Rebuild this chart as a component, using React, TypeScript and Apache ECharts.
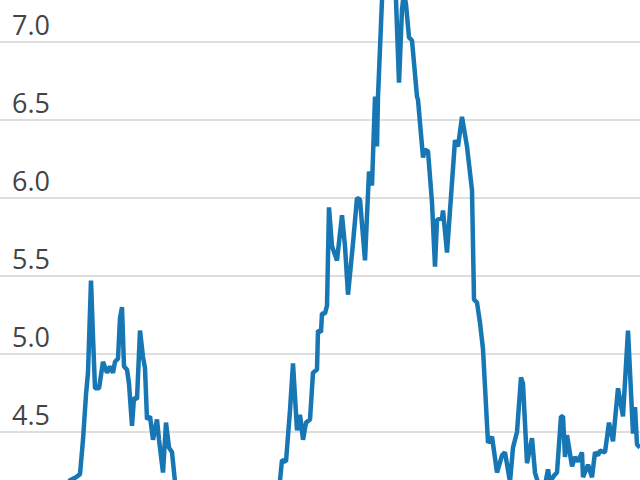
import React, { useEffect, useRef } from "react";
import * as echarts from "echarts";

// x positions (week index) and values
const weeks: number[] = [
  60, 70, 76, 80, 83, 86, 88, 91, 93, 95, 99, 103, 107, 110, 113, 115, 118, 120, 122, 124,
  127, 129, 132, 134, 137, 140, 143, 145, 147, 150, 153, 157, 159, 163, 166, 169, 172, 175,
  180, 188, 197, 208, 220, 235, 250, 262, 272, 278, 280, 282, 286, 290, 293, 297, 300, 303,
  306, 310, 313, 317, 318, 321, 322, 325, 327, 329, 332, 337, 342, 345, 348, 353, 357, 360,
  365, 369, 372, 375, 377, 378, 382, 385, 389, 393, 396, 399, 402, 404, 406, 409, 412, 417,
  418, 423, 425, 428, 432, 435, 437, 442, 443, 447, 455, 458, 462, 467, 472, 474, 477, 480,
  483, 488, 492, 497, 502, 505, 510, 513, 517, 521, 523, 527, 532, 535, 540, 545, 548, 550,
  554, 557, 561, 563, 565, 567, 572, 575, 578, 582, 583, 588, 592, 595, 598, 600, 605, 609,
  613, 618, 623, 628, 633, 635, 637, 640,
];

const values: number[] = [
  4.1, 4.19, 4.21, 4.23, 4.45, 4.74, 4.88, 5.47, 5.11, 4.78, 4.78, 4.95, 4.88, 4.92, 4.88, 4.95, 4.97, 5.23, 5.3, 4.92,
  4.9, 4.81, 4.54, 4.72, 4.71, 5.15, 4.98, 4.91, 4.58, 4.6, 4.45, 4.58, 4.45, 4.24, 4.56, 4.4, 4.37, 4.18,
  4.1, 4.0, 3.94, 4.03, 3.87, 3.97, 3.9, 4.03, 4.06, 4.13, 4.19, 4.32, 4.31, 4.64, 4.94, 4.51, 4.61, 4.45,
  4.56, 4.58, 4.88, 4.9, 5.15, 5.14, 5.26, 5.26, 5.31, 5.94, 5.69, 5.6, 5.89, 5.69, 5.38, 5.71, 6.0, 5.99,
  5.6, 6.17, 6.08, 6.65, 6.33, 6.65, 7.27, 7.46, 7.53, 7.37, 7.27, 6.74, 7.21, 7.32, 7.24, 7.03, 7.01, 6.65,
  6.63, 6.26, 6.31, 6.3, 5.97, 5.56, 5.86, 5.87, 5.92, 5.65, 6.37, 6.33, 6.52, 6.33, 6.05, 5.35, 5.33, 5.2,
  5.03, 4.43, 4.47, 4.24, 4.35, 4.37, 4.18, 4.4, 4.5, 4.85, 4.81, 4.3, 4.46, 4.24, 4.13, 4.16, 4.26, 4.18,
  4.22, 4.24, 4.6, 4.6, 4.34, 4.48, 4.28, 4.34, 4.31, 4.37, 4.21, 4.29, 4.21, 4.37, 4.35, 4.38, 4.37, 4.56,
  4.44, 4.78, 4.6, 5.15, 4.49, 4.66, 4.42, 4.4,
];

const yMin = 4.0;
const yMax = 7.5;
const yStep = 0.5;
// tick labels that are visible in the picture
const shownTicks: number[] = [4.5, 5.0, 5.5, 6.0, 6.5, 7.0];

export default function App() {
  const ref = useRef<HTMLDivElement>(null);

  useEffect(() => {
    if (!ref.current) return;
    const chart = echarts.init(ref.current, undefined, { renderer: "svg" });
    const data = weeks.map((w, i) => [w, values[i]]);
    chart.setOption({
      animation: false,
      grid: { left: 0, right: 0, top: 0, bottom: 0, containLabel: false, outerBoundsMode: "none" },
      xAxis: {
        type: "value",
        min: 0,
        max: 640,
        show: false,
      },
      yAxis: {
        type: "value",
        min: yMin,
        max: yMax,
        interval: yStep,
        axisLine: { show: false },
        axisTick: { show: false },
        splitLine: { show: true, lineStyle: { color: "#dedede", width: 2 } },
        axisLabel: {
          inside: true,
          margin: 12,
          verticalAlign: "bottom",
          padding: [0, 0, 4, 0],
          color: "#444444",
          fontSize: 27,
          fontFamily: "Open Sans",
          formatter: (v: number) =>
            shownTicks.some((t) => Math.abs(t - v) < 1e-6) ? v.toFixed(1) : "",
        },
      },
      series: [
        {
          type: "line",
          data,
          showSymbol: false,
          symbol: "none",
          lineStyle: { color: "#1777b4", width: 4.5 },
          clip: true,
          z: 3,
        },
      ],
    });
    return () => chart.dispose();
  }, []);

  return (
    <div
      style={{
        position: "fixed",
        left: 0,
        top: 0,
        width: 640,
        height: 480,
        overflow: "hidden",
        background: "#fff",
      }}
    >
      <div
        ref={ref}
        style={{ position: "absolute", left: 0, top: -36, width: 640, height: 546 }}
      />
    </div>
  );
}
